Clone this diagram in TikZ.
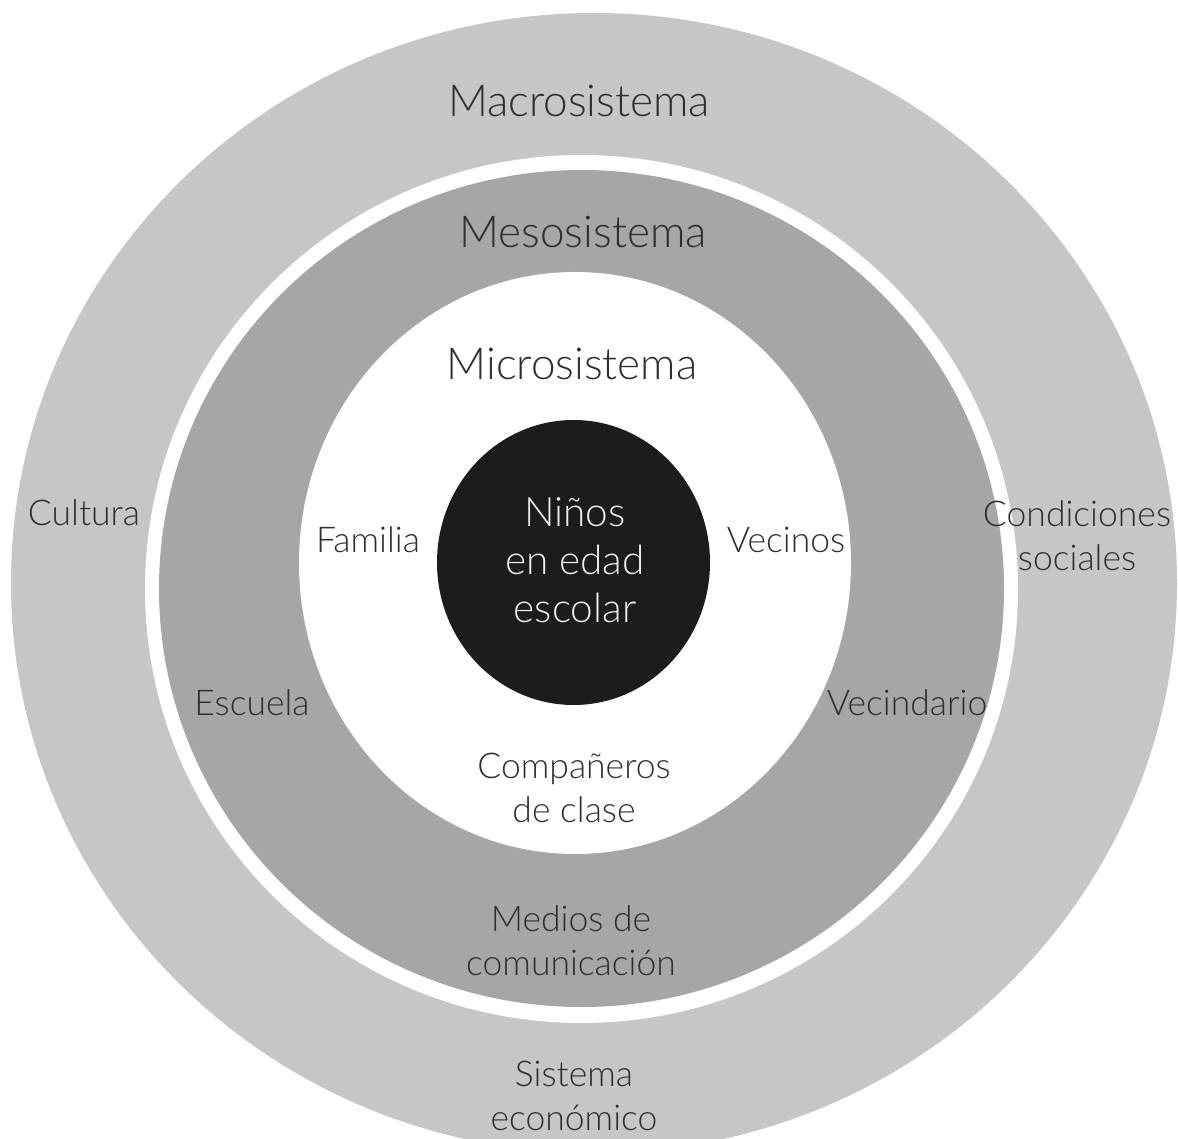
\documentclass[tikz,border=0pt]{standalone}
\usepackage{fontspec}
\setmainfont{Lato Light}
\definecolor{macroc}{HTML}{C6C6C6}
\definecolor{mesoc}{HTML}{A6A6A6}
\definecolor{coreC}{HTML}{1C1C1C}
\definecolor{txtc}{HTML}{2E2E2E}
\definecolor{coretxt}{HTML}{EDEDED}
\tikzset{
  big/.style={font=\fontsize{44}{52}\selectfont, text=txtc, inner sep=0pt, anchor=base},
  lbl/.style={font=\fontsize{35.5}{44}\selectfont, text=txtc, inner sep=0pt, anchor=base, align=center},
  corelbl/.style={font=\fontsize{40.5}{48}\selectfont, text=coretxt, inner sep=0pt, anchor=base, align=center}
}
\begin{document}
\begin{tikzpicture}[x=1pt,y=-1pt]
\useasboundingbox (0,0) rectangle (1178,1139);
\clip (0,0) rectangle (1178,1139);
\fill[white] (0,0) rectangle (1178,1139);
% rings
\fill[macroc] (594,583) ellipse [x radius=583pt, y radius=570pt];
\fill[white] (581.5,589) ellipse [x radius=436.5pt, y radius=434pt];
\fill[mesoc] (581.5,588.5) ellipse [x radius=422.5pt, y radius=418.5pt];
\fill[white] (575,563) ellipse [x radius=276pt, y radius=291pt];
\fill[coreC] (573.5,562.5) ellipse [x radius=136.5pt, y radius=142.5pt];
% system titles
\node[big] (macro) at (579,117) {Macrosistema};
\node[big] (meso) at (583,248) {Mesosistema};
\node[big] (micro) at (572,380) {Microsistema};
% core (anchor base = last line)
\node[corelbl] (core) at (575,622) {Niños\\en edad\\escolar};
% micro labels
\node[lbl] (familia) at (368,552) {Familia};
\node[lbl] (vecinos) at (786,552) {Vecinos};
\node[lbl] (companeros) at (574,822) {Compañeros\\de clase};
% meso labels
\node[lbl] (escuela) at (252,715) {Escuela};
\node[lbl] (vecindario) at (907,715) {Vecindario};
\node[lbl] (medios) at (571,975) {Medios de\\comunicación};
% macro labels
\node[lbl] (cultura) at (84,525) {Cultura};
\node[lbl] (condiciones) at (1077,570) {Condiciones\\sociales};
\node[lbl] (sistema) at (574,1130) {Sistema\\económico};
\end{tikzpicture}
\end{document}
